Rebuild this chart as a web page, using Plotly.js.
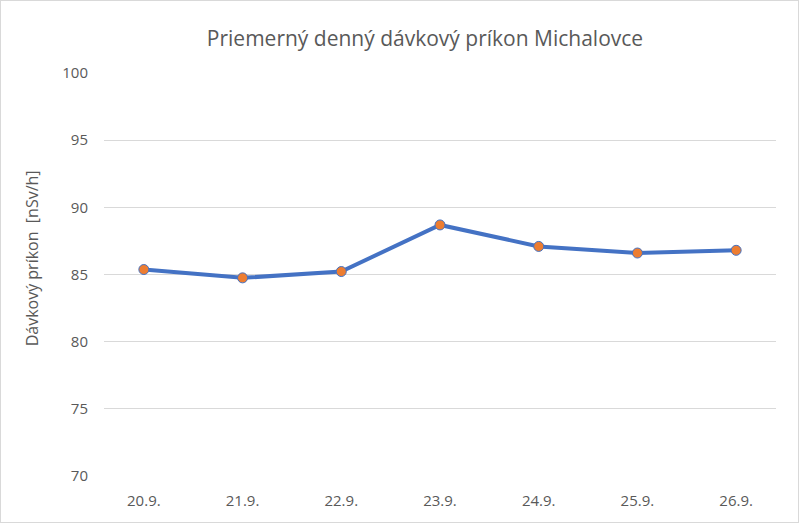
<!DOCTYPE html>
<html>
<head>
<meta charset="utf-8">
<script src="https://cdn.plot.ly/plotly-3.0.1.min.js"></script>
<style>
html,body{margin:0;padding:0;background:#fff;}
#wrap{position:absolute;left:0;top:0;width:797px;height:521px;border:1px solid #D9D9D9;}
#chart{width:797px;height:521px;}
</style>
</head>
<body>
<div id="wrap"><div id="chart"></div></div>
<script>
const categories = ["20.9.", "21.9.", "22.9.", "23.9.", "24.9.", "25.9.", "26.9."];
const values = [85.37, 84.75, 85.22, 88.69, 87.09, 86.6, 86.8];
const yTicks = [70, 75, 80, 85, 90, 95, 100];
const titleText = "Priemerný denný dávkový príkon Michalovce";
const yTitle = "Dávkový príkon  [nSv/h]";

const W = 797, H = 521;

const trace = {
  x: categories,
  y: values,
  type: "scatter",
  mode: "lines+markers",
  line: {color: "#4472C4", width: 4},
  marker: {color: "#ED7D31", size: 10, line: {color: "#4472C4", width: 1}},
  hoverinfo: "x+y"
};

const layout = {
  width: W,
  height: H,
  margin: {l: 103, r: 22, t: 72, b: 46},
  paper_bgcolor: "#fff",
  plot_bgcolor: "#fff",
  showlegend: false,
  font: {family: "Open Sans, Noto Sans, sans-serif", color: "#595959", size: 15},
  title: {
    text: titleText,
    font: {family: "Open Sans, sans-serif", size: 21, color: "#595959"},
    xref: "container", yref: "container",
    x: 424 / W, xanchor: "center", y: 1 - 38 / H, yanchor: "middle"
  },
  annotations: [{
    text: yTitle,
    xref: "paper", yref: "paper",
    x: (33 - 104) / 671, y: (475 - 258) / 402,
    xanchor: "center", yanchor: "middle",
    textangle: -90,
    showarrow: false,
    font: {family: "Open Sans, sans-serif", size: 16, color: "#595959"}
  }],
  xaxis: {
    type: "category",
    showgrid: false,
    showline: false,
    zeroline: false,
    ticks: "",
    ticklabelstandoff: 14,
    tickfont: {size: 15, color: "#595959"},
    fixedrange: true
  },
  yaxis: {
    range: [70, 100],
    tickvals: yTicks,
    ticktext: yTicks.map(String),
    showgrid: true,
    gridcolor: "#D9D9D9",
    gridwidth: 1,
    zeroline: false,
    showline: false,
    ticks: "",
    ticklen: 0,
    ticklabelstandoff: 15,
    tickfont: {size: 15, color: "#595959"},
    fixedrange: true
  }
};

Plotly.newPlot("chart", [trace], layout, {displayModeBar: false, staticPlot: true});
</script>
</body>
</html>
